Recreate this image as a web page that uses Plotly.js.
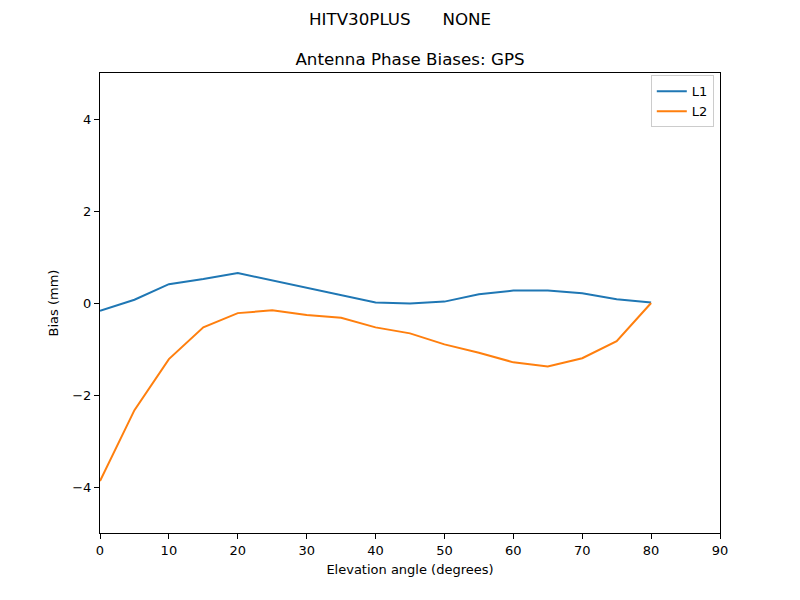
<!DOCTYPE html>
<html>
<head>
<meta charset="utf-8">
<script src="https://cdn.plot.ly/plotly-3.0.1.min.js"></script>
<style>html,body{margin:0;padding:0;background:#fff;}#chart{width:800px;height:600px;}</style>
</head>
<body>
<div id="chart"></div>
<script>
const elevation = [0, 5, 10, 15, 20, 25, 30, 35, 40, 45, 50, 55, 60, 65, 70, 75, 80];
const l1Bias = [-0.17, 0.07, 0.41, 0.52, 0.65, 0.49, 0.33, 0.17, 0.01, -0.01, 0.03, 0.19, 0.27, 0.27, 0.21, 0.08, 0.01];
const l2Bias = [-3.87, -2.33, -1.22, -0.53, -0.22, -0.16, -0.26, -0.32, -0.53, -0.66, -0.90, -1.08, -1.29, -1.38, -1.20, -0.83, 0.0];
const seriesNames = ["L1", "L2"];
const xTicks = [0, 10, 20, 30, 40, 50, 60, 70, 80, 90];
const yTicks = [-4, -2, 0, 2, 4];

const font = "DejaVu Sans, sans-serif";
const traces = [
  {x: elevation, y: l1Bias, name: seriesNames[0], mode: "lines", line: {color: "#1f77b4", width: 2}},
  {x: elevation, y: l2Bias, name: seriesNames[1], mode: "lines", line: {color: "#ff7f0e", width: 2}}
];
const axisCommon = {
  showgrid: false, zeroline: false, showline: true, mirror: true,
  linecolor: "black", linewidth: 1, ticks: "outside", ticklen: 5, tickwidth: 1,
  tickcolor: "black", tickfont: {family: font, size: 13, color: "black"}
};
const layout = {
  width: 800, height: 600,
  margin: {l: 100, r: 80, t: 73, b: 67},
  paper_bgcolor: "white", plot_bgcolor: "white",
  font: {family: font, color: "black"},
  title: {text: "Antenna Phase Biases: GPS", font: {family: font, size: 16.7, color: "black"},
          x: 0.5, xanchor: "center", xref: "paper", y: 1.0, yref: "paper", yanchor: "bottom", pad: {b: 8}},
  annotations: [{
    text: "HITV30PLUS\u00a0\u00a0\u00a0\u00a0\u00a0\u00a0NONE", xref: "paper", yref: "paper",
    x: (400 - 100) / 620, y: (533 - 19) / 460, xanchor: "center", yanchor: "middle", showarrow: false,
    font: {family: font, size: 16.7, color: "black"}
  }],
  xaxis: Object.assign({}, axisCommon, {range: [0, 90], tickvals: xTicks,
    title: {text: "Elevation angle (degrees)", font: {family: font, size: 13, color: "black"}, standoff: 8}}),
  yaxis: Object.assign({}, axisCommon, {range: [-5, 5], tickvals: yTicks,
    title: {text: "Bias (mm)", font: {family: font, size: 13, color: "black"}, standoff: 10}}),
  showlegend: true,
  legend: {x: 0.99, y: 0.995, xanchor: "right", yanchor: "top", bgcolor: "white",
           bordercolor: "#cccccc", borderwidth: 1, font: {family: font, size: 13, color: "black"}}
};
Plotly.newPlot("chart", traces, layout, {displayModeBar: false, staticPlot: true});
</script>
</body>
</html>
